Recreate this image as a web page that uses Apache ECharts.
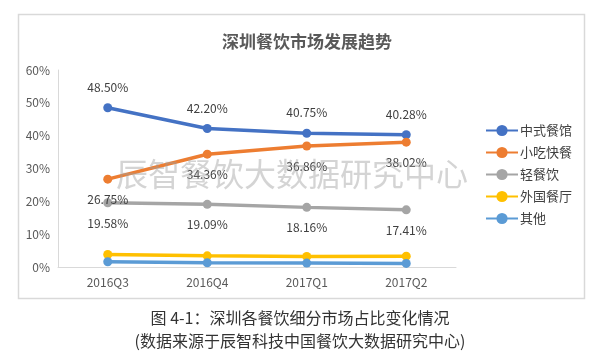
<!DOCTYPE html>
<html><head><meta charset="utf-8">
<script src="https://cdn.jsdelivr.net/npm/echarts@6/dist/echarts.min.js"></script>
<style>html,body{margin:0;padding:0;background:#fff}#c{width:600px;height:358px}</style>
</head><body><div id="c"></div>
<script>
const categories = ['2016Q3','2016Q4','2017Q1','2017Q2'];
const seriesNames = ['中式餐馆','小吃快餐','轻餐饮','外国餐厅','其他'];
const zhongshi = [48.50, 42.20, 40.75, 40.28];
const xiaochi = [26.75, 34.36, 36.86, 38.02];
const qingcanyin = [19.58, 19.09, 18.16, 17.41];
const waiguo = [3.8, 3.4, 3.2, 3.3];
const qita = [1.6, 1.3, 1.2, 1.1];
const yTicks = [0, 10, 20, 30, 40, 50, 60];
const colors = ['#4472C4','#ED7D31','#A5A5A5','#FFC000','#5B9BD5'];
const values = [zhongshi, xiaochi, qingcanyin, waiguo, qita];
const labelPos = ['top','bottom','bottom',null,null];
const font = '"Noto Sans CJK SC", "Noto Sans", sans-serif';

const chart = echarts.init(document.getElementById('c'));
chart.setOption({
  animation: false,
  textStyle: {fontFamily: font},
  title: {text: '深圳餐饮市场发展趋势', left: 302, top: 28, textAlign: 'center',
    textStyle: {fontSize: 17, fontWeight: 'bold', color: '#595959', fontFamily: font}},
  graphic: [
    {type: 'rect', shape: {x: 18.5, y: 14.5, width: 566, height: 284}, style: {fill: 'none', stroke: '#d9d9d9', lineWidth: 1.5}, z: -1},
    {type: 'text', left: 116, top: 158, style: {text: '辰智餐饮大数据研究中心', fontSize: 32, fill: 'rgba(160,160,160,0.45)', fontFamily: font}, z: 100},
    {type: 'text', left: 'center', top: 310, style: {text: '图 4-1：深圳各餐饮细分市场占比变化情况', fontSize: 16, fill: '#333', fontFamily: font}},
    {type: 'text', left: 'center', top: 333, style: {text: '(数据来源于辰智科技中国餐饮大数据研究中心)', fontSize: 16, fill: '#333', fontFamily: font}}
  ],
  legend: {orient: 'vertical', left: 480, top: 119, itemWidth: 32, itemHeight: 14, itemGap: 9,
    textStyle: {fontSize: 13, color: '#404040', padding: [0,0,0,-3]}, data: seriesNames},
  grid: {left: 58, right: 144, top: 70, bottom: 91},
  xAxis: {type: 'category', data: categories, boundaryGap: true,
    axisLine: {lineStyle: {color: '#d9d9d9', width: 1}}, axisTick: {show: false},
    axisLabel: {color: '#595959', fontSize: 12, margin: 9}},
  yAxis: {type: 'value', min: yTicks[0], max: yTicks[yTicks.length-1], interval: 10,
    axisLine: {show: true, lineStyle: {color: '#d9d9d9'}}, axisTick: {show: false},
    splitLine: {show: false},
    axisLabel: {color: '#595959', fontSize: 12, formatter: v => v + '%', margin: 8}},
  series: seriesNames.map((n, i) => ({
    name: n, type: 'line', data: values[i], color: colors[i],
    symbol: 'circle', symbolSize: 9, lineStyle: {width: 3.5},
    label: labelPos[i] ? {show: true, position: labelPos[i], distance: 10, fontSize: 12, color: '#404040',
      formatter: p => p.value.toFixed(2) + '%'} : {show: false}
  }))
});
</script></body></html>
